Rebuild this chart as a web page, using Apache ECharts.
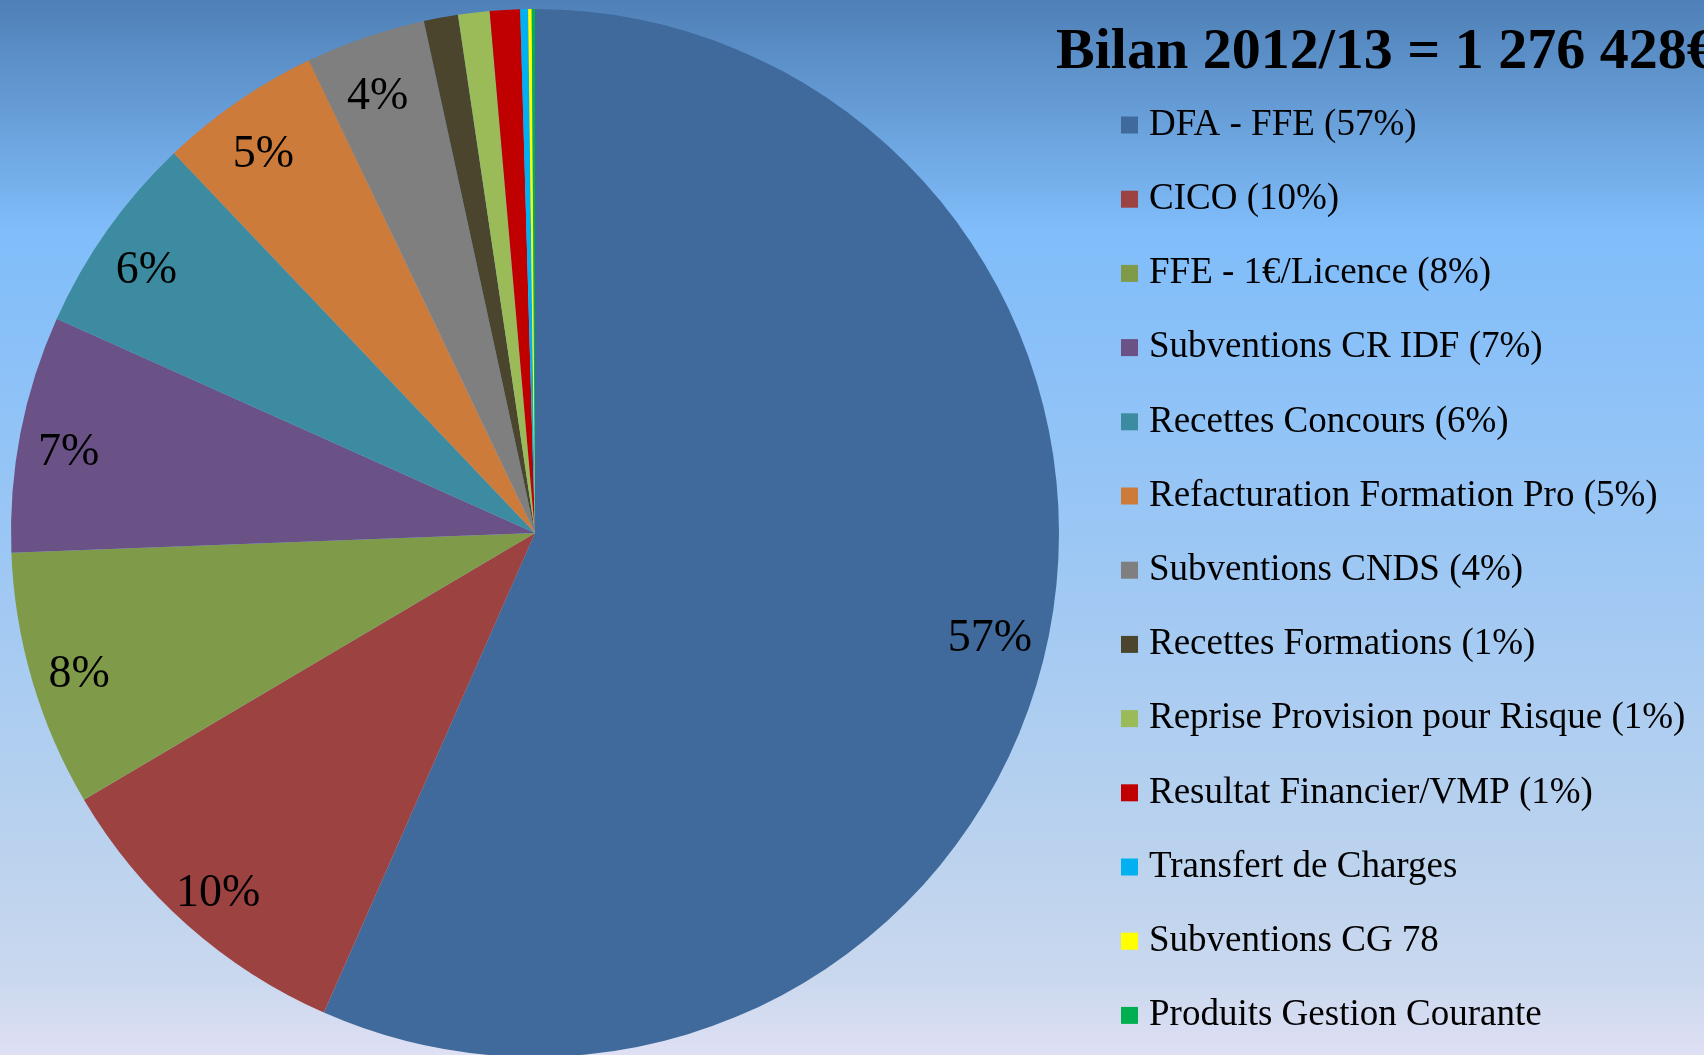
<!DOCTYPE html>
<html>
<head>
<meta charset="utf-8">
<script src="https://cdn.jsdelivr.net/npm/echarts@6/dist/echarts.min.js"></script>
<style>
html,body{margin:0;padding:0;width:1704px;height:1055px;overflow:hidden;}
#chart{width:1704px;height:1055px;}
</style>
</head>
<body>
<div id="chart"></div>
<script>
// Data (shares in %)
var categories = [
  'DFA - FFE (57%)',
  'CICO (10%)',
  'FFE - 1€/Licence (8%)',
  'Subventions CR IDF (7%)',
  'Recettes Concours (6%)',
  'Refacturation Formation Pro (5%)',
  'Subventions CNDS (4%)',
  'Recettes Formations (1%)',
  'Reprise Provision pour Risque (1%)',
  'Resultat Financier/VMP (1%)',
  'Transfert de Charges',
  'Subventions CG 78',
  'Produits Gestion Courante'
];
var shares = [56.6, 9.9, 7.9, 7.3, 6.2, 5.0, 3.7, 1.05, 0.97, 0.93, 0.24, 0.11, 0.10];
var colors = ['#3F6A9B', '#9C4240', '#7F9A48', '#6A5286', '#3D8BA0', '#CC7B3A', '#7F7F7F',
              '#4A452C', '#9BBB59', '#C00000', '#00B0F0', '#FFFF00', '#00B050'];
var titleText = 'Bilan 2012/13 = 1 276 428€';

var FONT = '"Liberation Serif", "Times New Roman", serif';

var mainData = categories.map(function (c, i) {
  return { name: c, value: shares[i], itemStyle: { color: colors[i] } };
});
var labelData = categories.map(function (c, i) {
  return { name: c, value: shares[i] };
});

var chart = echarts.init(document.getElementById('chart'), null, { renderer: 'canvas' });
chart.setOption({
  animation: false,
  backgroundColor: {
    type: 'linear', x: 0, y: 0, x2: 0, y2: 1,
    colorStops: [
      { offset: 0, color: '#4F80B7' },
      { offset: 0.22, color: '#80BDFA' },
      { offset: 0.52, color: '#9CC7F4' },
      { offset: 0.8, color: '#BAD2EE' },
      { offset: 0.93, color: '#CAD8EE' },
      { offset: 1, color: '#DFE0F4' }
    ]
  },
  title: {
    text: titleText,
    left: 1056,
    top: 24,
    padding: 0,
    textStyle: { fontFamily: FONT, fontSize: 58, fontWeight: 'bold', color: '#000' }
  },
  legend: {
    orient: 'vertical',
    left: 1121,
    top: 105,
    padding: 0,
    itemWidth: 17,
    itemHeight: 17,
    itemGap: 34.2,
    icon: 'rect',
    selectedMode: false,
    data: categories,
    textStyle: { fontFamily: FONT, fontSize: 37, lineHeight: 40, color: '#000', padding: [0, 0, 0, 6] }
  },
  series: [
    {
      type: 'pie',
      center: [535, 533],
      radius: [0, 524],
      startAngle: 90,
      clockwise: true,
      silent: true,
      avoidLabelOverlap: false,
      label: { show: false },
      labelLine: { show: false },
      itemStyle: { borderWidth: 0 },
      emphasis: { disabled: true },
      data: mainData
    },
    {
      type: 'pie',
      center: [535, 533],
      radius: [410, 524],
      startAngle: 90,
      clockwise: true,
      silent: true,
      avoidLabelOverlap: false,
      itemStyle: { color: 'rgba(0,0,0,0)', borderWidth: 0 },
      emphasis: { disabled: true },
      labelLine: { show: false },
      label: {
        show: true,
        position: 'inside',
        fontFamily: FONT,
        fontSize: 46,
        color: '#000',
        offset: [-5, 9],
        formatter: function (p) {
          return p.percent >= 2 ? Math.round(p.percent) + '%' : '';
        }
      },
      data: labelData
    }
  ]
});
</script>
</body>
</html>
